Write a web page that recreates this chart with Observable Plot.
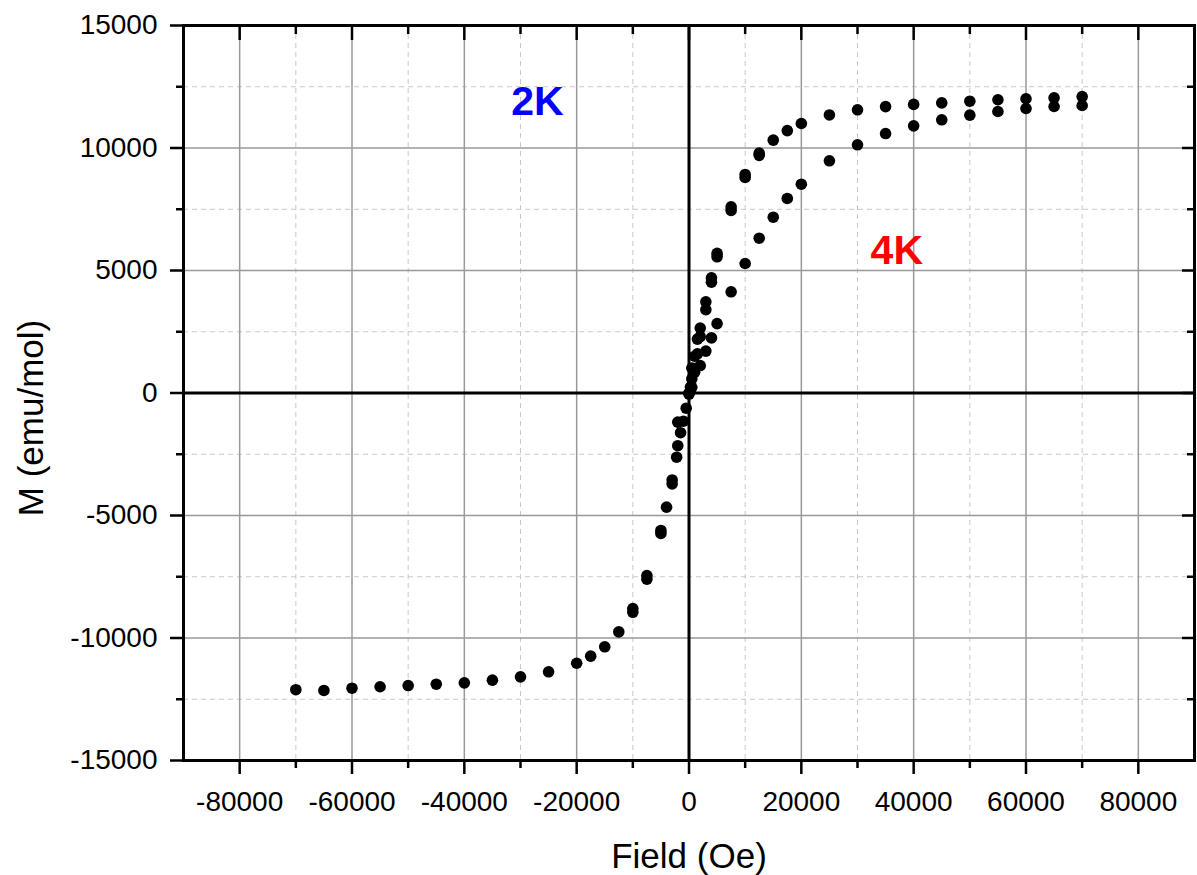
<!DOCTYPE html>
<html><head><meta charset="utf-8">
<script src="https://cdn.jsdelivr.net/npm/d3@7"></script>
<script src="https://cdn.jsdelivr.net/npm/@observablehq/plot@0.6"></script>
<style>
body{margin:0;background:#fff;}
#chart svg{display:block;}
</style>
</head><body><div id="chart"></div>
<script>
// 2K loop (field in Oe, magnetisation in emu/mol)
const field2K = [70000,65000,60000,55000,50000,45000,40000,35000,30000,25000,20000,17500,15000,12500,12500,10000,10000,7500,7500,5000,5000,4000,4000,3000,3000,2000,2000,1500,1500,1000,1000,500,500,250,0,-500,-1000,-2000,-1500,-2000,-2200,-3000,-3000,-4000,-5000,-5000,-7500,-7500,-10000,-10000,-12500,-15000,-17500,-20000,-25000,-30000,-35000,-40000,-45000,-50000,-55000,-60000,-65000,-70000];
const moment2K = [12100,12050,12010,11970,11910,11840,11780,11690,11560,11350,11000,10710,10320,9700,9790,8800,8920,7450,7600,5560,5700,4520,4700,3400,3720,2650,2300,2200,1600,1500,1000,1020,580,240,-50,-620,-1150,-1190,-1620,-2150,-2620,-3550,-3710,-4660,-5610,-5730,-7450,-7600,-8800,-8950,-9750,-10360,-10740,-11030,-11380,-11585,-11720,-11830,-11885,-11940,-11990,-12050,-12140,-12110];
// 4K curve
const field4K = [70000,65000,60000,55000,50000,45000,40000,35000,30000,25000,20000,17500,15000,12500,10000,7500,5000,4000,3000,2000,1000,500,0];
const moment4K = [11735,11694,11612,11490,11340,11150,10905,10590,10130,9477,8523,7940,7176,6318,5286,4130,2830,2250,1710,1120,850,230,0];
// annotations
const labelText = ["2K","4K"];
const labelX = [-27000, 37000];
const labelY = [11900, 5800];
const labelColor = ["#0000ff","#ff0000"];
// ticks
const xTicks = [-80000,-60000,-40000,-20000,0,20000,40000,60000,80000];
const xMinor = [-70000,-50000,-30000,-10000,10000,30000,50000,70000];
const yTicks = [-15000,-10000,-5000,0,5000,10000,15000];
const yMinor = [-12500,-7500,-2500,2500,7500,12500];
const xTitle = "Field (Oe)";
const yTitle = "M (emu/mol)";

const data2K = field2K.map((f,i)=>({field:f, m:moment2K[i]}));
const data4K = field4K.map((f,i)=>({field:f, m:moment4K[i]}));
const labels = labelText.map((t,i)=>({text:t, x:labelX[i], y:labelY[i], color:labelColor[i]}));
const none = () => "";

const chart = Plot.plot({
  width: 1197, height: 875,
  marginLeft: 183, marginRight: 3, marginTop: 25, marginBottom: 115,
  style: {fontFamily: "'Liberation Sans', Arial, sans-serif", background: "#fff", color: "#000"},
  x: {domain: [-90000, 90000]},
  y: {domain: [-15000, 15000]},
  marks: [
    Plot.gridX(xMinor, {stroke: "#c8c8c8", strokeOpacity: 1, strokeWidth: 1, strokeDasharray: "5,4"}),
    Plot.gridY(yMinor, {stroke: "#c8c8c8", strokeOpacity: 1, strokeWidth: 1, strokeDasharray: "5,4"}),
    Plot.gridX(xTicks.filter(d=>d!==0), {stroke: "#999", strokeOpacity: 1, strokeWidth: 1.5}),
    Plot.gridY(yTicks.filter(d=>d!==0), {stroke: "#999", strokeOpacity: 1, strokeWidth: 1.5}),
    Plot.ruleX([0], {stroke: "#000", strokeWidth: 3}),
    Plot.ruleY([0], {stroke: "#000", strokeWidth: 3}),
    Plot.dot(data2K, {x: "field", y: "m", r: 5.8, fill: "#000"}),
    Plot.dot(data4K, {x: "field", y: "m", r: 5.8, fill: "#000"}),
    Plot.text(labels, {x: "x", y: "y", text: "text", fill: d=>d.color, fontSize: 41, fontWeight: "bold"}),
    Plot.frame({stroke: "#000", strokeWidth: 3}),
    // bottom axis
    Plot.axisX(xTicks, {anchor: "bottom", tickSize: 14, tickPadding: 17, strokeWidth: 2.5, fontSize: 28, label: null, tickFormat: d=>String(d)}),
    Plot.axisX(xMinor, {anchor: "bottom", tickSize: 8, strokeWidth: 2.5, label: null, tickFormat: none}),
    // top axis, ticks inward
    Plot.axisX(xTicks, {anchor: "top", tickSize: 14, dy: 14, strokeWidth: 2.5, label: null, tickFormat: none}),
    Plot.axisX(xMinor, {anchor: "top", tickSize: 8, dy: 8, strokeWidth: 2.5, label: null, tickFormat: none}),
    // left axis
    Plot.axisY(yTicks, {anchor: "left", tickSize: 13, tickPadding: 13, strokeWidth: 2.5, fontSize: 28, label: null, tickFormat: d=>String(d)}),
    Plot.axisY(yMinor, {anchor: "left", tickSize: 7, strokeWidth: 2.5, label: null, tickFormat: none}),
    // right axis, ticks inward
    Plot.axisY(yTicks, {anchor: "right", tickSize: 13, dx: -13, strokeWidth: 2.5, label: null, tickFormat: none}),
    Plot.axisY(yMinor, {anchor: "right", tickSize: 8, dx: -8, strokeWidth: 2.5, label: null, tickFormat: none}),
    // titles
    Plot.text([xTitle], {frameAnchor: "bottom", text: d=>d, textAnchor: "middle", lineAnchor: "middle", dy: 96, fontSize: 35}),
    Plot.text([yTitle], {frameAnchor: "left", text: d=>d, textAnchor: "middle", lineAnchor: "middle", rotate: -90, dx: -152, dy: 25, fontSize: 35})
  ]
});
document.getElementById("chart").appendChild(chart);
</script>
</body></html>
